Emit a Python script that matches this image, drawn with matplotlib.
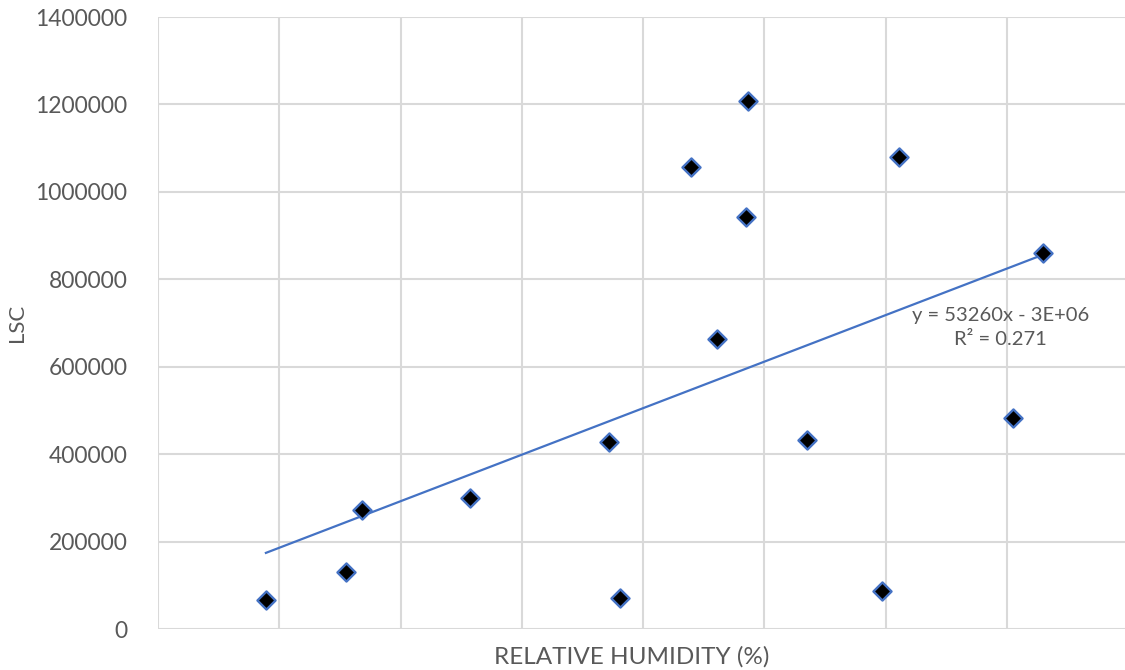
import matplotlib.pyplot as plt
import numpy as np

plt.rcParams['font.family'] = ['Lato', 'DejaVu Sans']

# relative humidity (%) and LSC values
humidity = [59.78, 61.10, 61.36, 63.14, 65.44, 65.62, 66.79, 67.22,
            67.70, 67.73, 68.70, 69.94, 70.22, 72.10, 72.59]
lsc = [66000, 130000, 272000, 300000, 428000, 70000, 1057000, 663000,
       942000, 1208000, 432000, 87000, 1080000, 483000, 860000]
y_ticks = [0, 200000, 400000, 600000, 800000, 1000000, 1200000, 1400000]
x_ticks = [58, 60, 62, 64, 66, 68, 70, 72, 74]

fig = plt.figure(figsize=(11.25, 6.7), dpi=100)
ax = fig.add_axes([158 / 1125, 1 - 629 / 670, 970 / 1125, 612 / 670])

grid_col = '#d9d9d9'
text_col = '#595959'
blue = '#4472c4'

# trendline (least squares)
slope, intercept = np.polyfit(humidity, lsc, 1)
xs = np.array([min(humidity), max(humidity)])
ax.plot(xs, slope * xs + intercept, color=blue, lw=1.6, zorder=2)

ax.scatter(humidity, lsc, marker='D', s=85, c='black', edgecolors=blue,
           linewidths=1.7, zorder=3)

ax.set_xlim(58, 74)
ax.set_ylim(0, 1400000)
ax.set_xticks(x_ticks)
ax.set_yticks(y_ticks)
ax.set_xticklabels([])
ax.set_yticklabels([str(v) for v in y_ticks])
ax.tick_params(axis='y', length=0, labelsize=16.5, colors=text_col, pad=22)
ax.tick_params(axis='x', length=0, pad=0)
ax.grid(True, color=grid_col, lw=1.5, zorder=0)
ax.set_axisbelow(True)
for s in ax.spines.values():
    s.set_visible(False)

ax.set_ylabel('LSC', fontsize=16, color=text_col, labelpad=6)
ax.set_xlabel('RELATIVE HUMIDITY (%)', fontsize=17.5, color=text_col)
ax.xaxis.set_label_coords(0.488, -0.028, transform=ax.transAxes)
ax.xaxis.label.set_va('top')

ax.text(71.9, 690000, 'y = 53260x - 3E+06\nR² = 0.271', ha='center', va='center',
        fontsize=14.5, color=text_col, linespacing=1.45)

fig.savefig('out.png', dpi=100)
